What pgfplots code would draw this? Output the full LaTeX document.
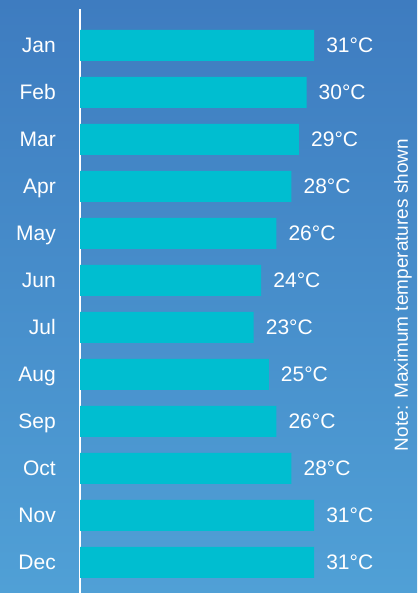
\documentclass[border=0pt]{standalone}
\usepackage{pgfplots}
\pgfplotsset{compat=1.18}
\usepackage{fontspec}
\setmainfont{Liberation Sans}
\definecolor{bgtop}{RGB}{62,124,192}
\definecolor{bgbot}{RGB}{80,160,214}
\definecolor{barc}{RGB}{0,190,208}
\begin{document}
\begin{tikzpicture}[x=1bp,y=1bp]
\shade[top color=bgtop, bottom color=bgbot] (0,0) rectangle (417,593);
\useasboundingbox (0,0) rectangle (417,593);
\begin{axis}[
  at={(80bp,0bp)}, anchor=south west,
  scale only axis, width=302bp, height=583.7bp,
  xmin=0, xmax=40, ymin=-0.77, ymax=11.65, y dir=reverse,
  xbar, bar width=31bp, bar shift=0pt,
  hide x axis,
  axis y line=left,
  y axis line style={-, draw=white, line width=2bp},
  ytick={0,...,11},
  yticklabels={Jan,Feb,Mar,Apr,May,Jun,Jul,Aug,Sep,Oct,Nov,Dec},
  major tick length=0pt,
  ytick style={draw=none},
  yticklabel style={text=white, font=\fontsize{21bp}{25bp}\selectfont, inner sep=0pt, xshift=-24bp, text height=15bp, text depth=0pt},
  /pgf/number format/assume math mode=true,
  nodes near coords={\pgfmathprintnumber{\pgfplotspointmeta}°C},
  nodes near coords style={text=white, font=\fontsize{21bp}{25bp}\selectfont, anchor=west, inner sep=0pt, xshift=12bp, text height=15bp, text depth=0pt},
  clip=false,
]
\addplot[fill=barc, draw=none] coordinates {
(31,0) (30,1) (29,2) (28,3) (26,4) (24,5) (23,6) (25,7) (26,8) (28,9) (31,10) (31,11)
};
\end{axis}
\node[rotate=90, text=white, font=\fontsize{19bp}{23bp}\selectfont] at (403,298) {Note: Maximum temperatures shown};
\end{tikzpicture}
\end{document}
